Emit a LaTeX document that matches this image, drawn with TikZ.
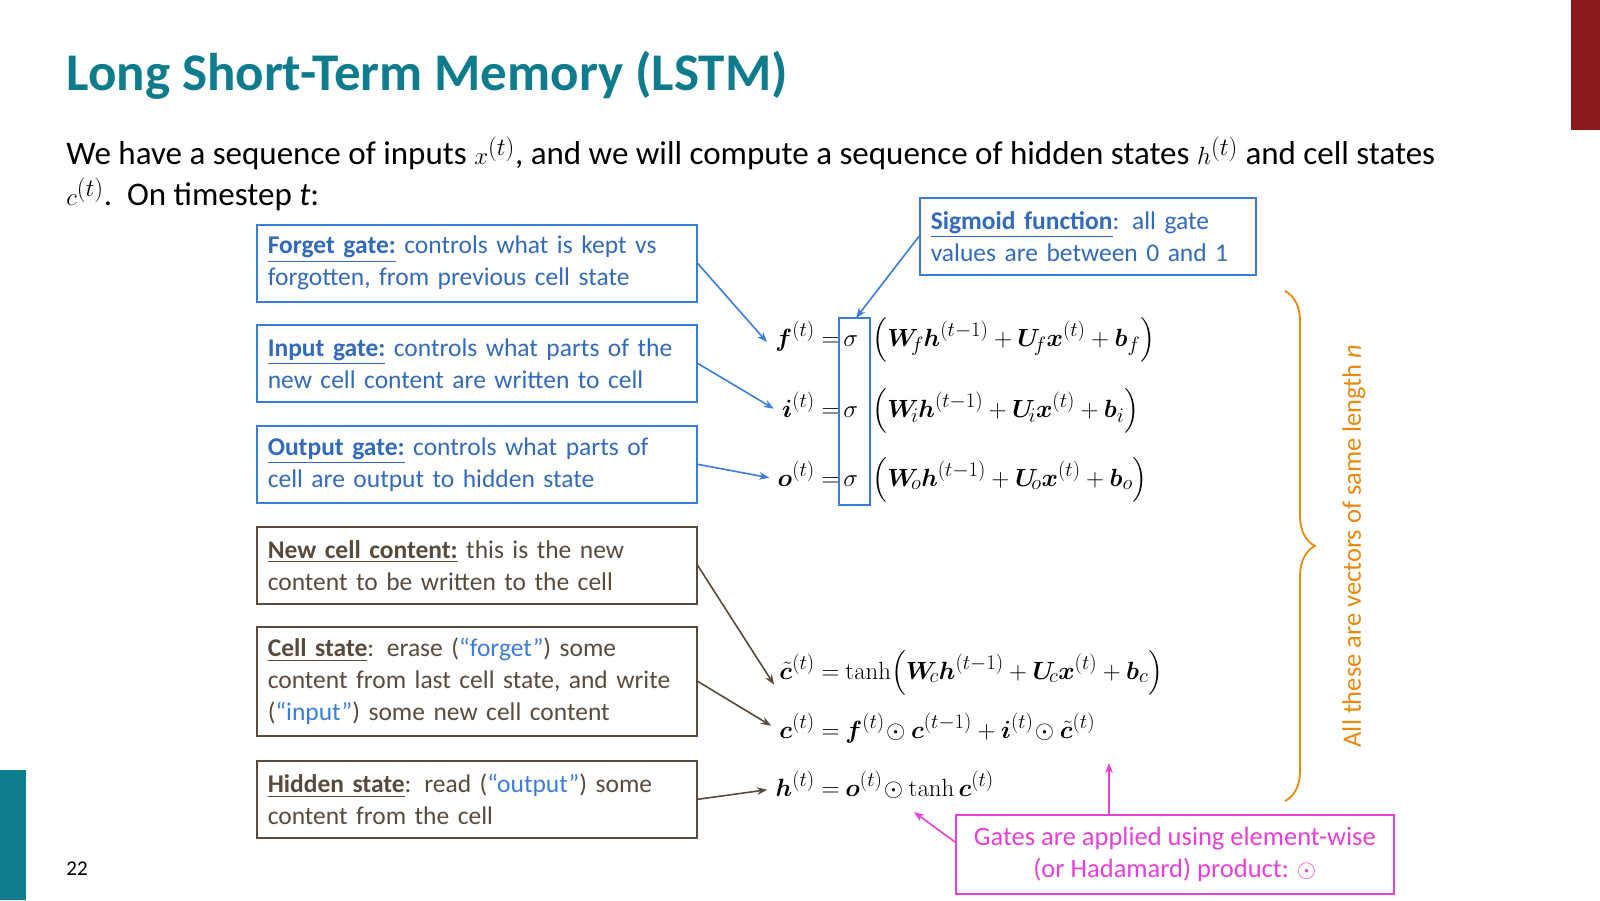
\documentclass[tikz,border=0pt]{standalone}
\usepackage[no-math]{fontspec}
\setmainfont{Carlito}
\usepackage{amsmath}
\usepackage{bm}
\usetikzlibrary{arrows.meta,positioning,decorations.pathreplacing}
\definecolor{titleteal}{RGB}{14,124,140}
\definecolor{gateblue}{RGB}{59,125,221}
\definecolor{cellbrown}{RGB}{89,74,60}
\definecolor{braceorange}{RGB}{232,137,12}
\definecolor{hadpink}{RGB}{232,63,214}
\definecolor{barred}{RGB}{139,26,26}
\tikzset{
    every picture/.style = {
        > = Stealth,
        thick
    },
    gatebox/.style = {
        draw = gateblue,
        line width = 1.6pt,
        minimum width = 440pt,
        minimum height = 77pt,
        inner sep = 0pt,
        text width = 418pt,
        align = left,
        font = \fontsize{25.5}{32}\selectfont,
        anchor = north west
    },
    cellbox/.style = {
        gatebox,
        draw = cellbrown,
        text = cellbrown
    },
    lhs/.style = {
        anchor = base east,
        inner sep = 0pt,
        font = \fontsize{31}{36}\selectfont
    },
    rhs/.style = {
        anchor = base west,
        inner sep = 0pt,
        font = \fontsize{31}{36}\selectfont
    }
}
\newcommand{\hd}[1]{\underline{\textbf{#1}}}
\begin{document}
\hyphenpenalty=10000
\begin{tikzpicture}[x = 1pt, y = -1pt]
    \useasboundingbox (0,0) rectangle (1600,900);
    \fill[barred] (1571,0) rectangle (1600,130);
    \fill[titleteal] (0,770) rectangle (26,900);
    \node[anchor = west, inner sep = 0pt, text = titleteal,
          font = \fontsize{53}{60}\selectfont\bfseries] (title) at (66,75)
        {Long Short-Term Memory (LSTM)};
    \node[anchor = west, inner sep = 0pt, font = \fontsize{33}{38}\selectfont] (intro1) at (66,153)
        {We have a sequence of inputs $x^{(t)}$, and we will compute a sequence of hidden states $h^{(t)}$ and cell states};
    \node[anchor = west, inner sep = 0pt, font = \fontsize{33}{38}\selectfont] (intro2) at (66,194)
        {$c^{(t)}$.\ \ On timestep \textit{t}:};
    \node[anchor = west, inner sep = 0pt, font = \fontsize{21}{24}\selectfont] (pagenum) at (66,869) {22};

    % boxes on the left
    \node[gatebox, text = gateblue!85!black] (forget) at (256,224)
        {\hd{Forget gate:} controls what is kept vs forgotten, from previous cell state};
    \node[gatebox, text = gateblue!85!black] (input) at (256,324)
        {\hd{Input gate:} controls what parts of the new cell content are written to cell};
    \node[gatebox, text = gateblue!85!black] (output) at (256,425)
        {\hd{Output gate:} controls what parts of cell are output to hidden state};
    \node[cellbox] (newcell) at (256,526)
        {\hd{New cell content:} this is the new content to be written to the cell};
    \node[cellbox, minimum height = 109pt] (cellstate) at (256,626)
        {\hd{Cell state}: erase ({\color{gateblue}``forget''}) some content from last cell state, and write ({\color{gateblue}``input''}) some new cell content};
    \node[cellbox] (hidden) at (256,760)
        {\hd{Hidden state}: read ({\color{gateblue}``output''}) some content from the cell};

    % gate equations
    \node[lhs] (eqf) at (840,346) {$\bm{f}^{(t)} =$};
    \node[lhs] (eqi) at (840,417) {$\bm{i}^{(t)} =$};
    \node[lhs] (eqo) at (840,486) {$\bm{o}^{(t)} =$};
    \node[rhs] (sigf) at (843,346) {$\sigma$};
    \node[rhs] (sigi) at (843,417) {$\sigma$};
    \node[rhs] (sigo) at (843,486) {$\sigma$};
    \node[rhs] (rhsf) at (872,346)
        {$\Bigl(\bm{W}_{\!f}\bm{h}^{(t-1)} + \bm{U}_{\!f}\bm{x}^{(t)} + \bm{b}_f\Bigr)$};
    \node[rhs] (rhsi) at (872,417)
        {$\Bigl(\bm{W}_{\!i}\bm{h}^{(t-1)} + \bm{U}_{\!i}\bm{x}^{(t)} + \bm{b}_i\Bigr)$};
    \node[rhs] (rhso) at (872,486)
        {$\Bigl(\bm{W}_{\!o}\bm{h}^{(t-1)} + \bm{U}_{\!o}\bm{x}^{(t)} + \bm{b}_o\Bigr)$};
    % cell and hidden equations
    \node[lhs] (eqct) at (840,679) {$\tilde{\bm{c}}^{(t)} =$};
    \node[lhs] (eqc) at (840,738) {$\bm{c}^{(t)} =$};
    \node[lhs] (eqh) at (840,796) {$\bm{h}^{(t)} =$};
    \node[rhs] (rhsct) at (845,679)
        {$\tanh\Bigl(\bm{W}_{\!c}\bm{h}^{(t-1)} + \bm{U}_{\!c}\bm{x}^{(t)} + \bm{b}_c\Bigr)$};
    \node[rhs] (rhsc) at (845,738)
        {$\bm{f}^{(t)}\!\odot\bm{c}^{(t-1)} + \bm{i}^{(t)}\!\odot\tilde{\bm{c}}^{(t)}$};
    \node[rhs] (rhsh) at (845,796)
        {$\bm{o}^{(t)}\!\odot\tanh\bm{c}^{(t)}$};

    % sigmoid box and note
    \coordinate (sigtl) at (839,318);
    \coordinate (sigbr) at (870,505);
    \coordinate (sigtop) at (856,318);
    \draw[gateblue, line width = 1.6pt] (sigtl) rectangle (sigbr);
    \node[gatebox, minimum width = 336pt, text width = 314pt, text = gateblue!85!black] (sigmoid) at (919,197)
        {\hd{Sigmoid function}: all gate values are between 0 and 1};

    % hadamard note
    \node[draw = hadpink, line width = 1.6pt, minimum width = 438pt, minimum height = 79pt,
          anchor = north west, align = center, text = hadpink, inner sep = 0pt,
          font = \fontsize{26.5}{32}\selectfont] (hadamard) at (955,814)
        {Gates are applied using element-wise\\(or Hadamard) product: $\odot$};
    \coordinate (odotc) at (1109,763);
    \coordinate (odoth) at (914,812);

    % brace
    \coordinate (bracetop) at (1285,291);
    \coordinate (bracebot) at (1285,801);
    \draw[braceorange, line width = 1.8pt, decorate, decoration = {brace, amplitude = 30pt}]
        (bracetop) -- (bracebot);
    \node[rotate = 90, text = braceorange, inner sep = 0pt,
          font = \fontsize{26.5}{30}\selectfont] (samelen) at (1354,546)
        {All these are vectors of same length \textit{n}};

    % arrows
    \draw[->, gateblue, line width = 1.6pt] (forget.east) -- ([shift = {(-8pt,-6pt)}]eqf.west);
    \draw[->, gateblue, line width = 1.6pt] (input.east) -- ([shift = {(-8pt,-4pt)}]eqi.west);
    \draw[->, gateblue, line width = 1.6pt] (output.east) -- ([shift = {(-8pt,-4pt)}]eqo.west);
    \draw[->, gateblue, line width = 1.6pt] (sigmoid.west) -- (sigtop);
    \draw[->, cellbrown, line width = 1.6pt] (newcell.east) -- ([shift = {(-5pt,-18pt)}]eqct.west);
    \draw[->, cellbrown, line width = 1.6pt] (cellstate.east) -- ([shift = {(-8pt,0pt)}]eqc.west);
    \draw[->, cellbrown, line width = 1.6pt] (hidden.east) -- ([shift = {(-8pt,-6pt)}]eqh.west);
    \draw[->, hadpink, line width = 1.6pt] (hadamard.north -| odotc) -- (odotc);
    \draw[->, hadpink, line width = 1.6pt] ([yshift = -28pt]hadamard.north west) -- (odoth);
\end{tikzpicture}
\end{document}
